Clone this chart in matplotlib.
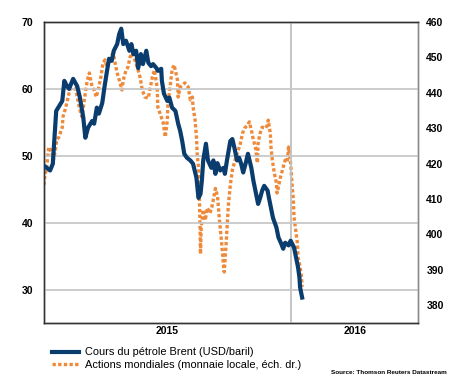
import numpy as np
import pandas as pd
import matplotlib
matplotlib.use('Agg')
import matplotlib.pyplot as plt

plt.rcParams['font.family'] = ['Liberation Sans', 'DejaVu Sans']

START = pd.Timestamp('2015-01-01')

# Brent crude, USD/barrel (left axis) - days after 1 Jan 2015
brent_days = [0, 9, 13, 18, 21, 27, 30, 34, 37, 43, 49, 53, 58, 61, 65, 71, 74, 78, 81,
              86, 89, 93, 96, 100, 103, 108, 111, 114, 117, 121, 126, 129, 132, 136,
              139, 143, 146, 151, 154, 158, 161, 166, 168, 173, 174, 177, 182, 185,
              189, 194, 198, 201, 204, 207, 211, 216, 220, 225, 228, 231, 233, 235,
              239, 242, 247, 250, 253, 256, 260, 265, 267, 270, 275, 278, 281, 285,
              288, 291, 294, 298, 301, 306, 309, 313, 316, 319, 322, 325, 330, 332,
              335, 338, 343, 346, 350, 353, 356, 361, 364, 366, 369, 372, 375, 377,
              378, 381]
brent = [48.5, 47.8, 48.8, 56.7, 57.2, 58.2, 61.2, 60.4, 60.0, 61.5, 60.4, 58.7, 55.7,
         52.7, 54.2, 55.2, 54.8, 57.2, 56.3, 57.9, 60.1, 62.7, 64.5, 64.2, 65.7, 66.7,
         68.2, 69.0, 66.7, 67.2, 65.7, 66.7, 65.2, 65.7, 63.1, 65.2, 63.7, 65.7, 63.9,
         63.4, 63.7, 63.1, 62.7, 63.0, 61.2, 59.3, 58.2, 58.7, 57.2, 56.7, 54.8, 53.7,
         52.2, 50.3, 49.7, 49.3, 48.8, 46.7, 43.7, 44.3, 46.3, 49.3, 51.8, 49.3, 48.2,
         49.3, 47.3, 48.9, 47.8, 48.2, 47.3, 49.3, 52.2, 52.5, 51.2, 49.3, 49.7, 48.8,
         47.5, 49.0, 50.3, 48.2, 46.3, 44.3, 42.8, 43.7, 44.8, 45.5, 44.8, 43.7, 42.2,
         40.7, 39.3, 37.8, 36.9, 36.1, 37.0, 36.6, 37.3, 36.9, 36.3, 34.8, 33.3, 31.8,
         30.3, 28.8]

# World equities, local currency (right axis)
stock_days = [0, 1, 4, 7, 12, 13, 16, 19, 22, 27,
              28, 31, 34, 38, 43, 47, 50, 53, 56, 58,
              61, 64, 67, 71, 74, 77, 80, 84, 87, 90,
              93, 98, 102, 105, 108, 112, 115, 117, 121, 124,
              127, 130, 134, 139, 142, 145, 149, 154, 157, 160,
              163, 167, 168, 173, 176, 179, 182, 183, 186, 189,
              192, 197, 198, 201, 204, 208, 213, 216, 219, 220,
              223, 225, 226, 228, 229, 230, 231, 232, 235, 238,
              241, 245, 248, 253, 256, 259, 262, 265, 266, 269,
              272, 275, 278, 282, 290, 293, 296, 301, 303, 306,
              309, 312, 315, 316, 319, 322, 327, 330, 331, 334,
              335, 337, 340, 343, 344, 346, 349, 352, 353, 356,
              359, 361, 362, 364, 366, 368, 369, 372, 374, 375,
              378, 380, 381]
stocks = [414.0, 416.2, 419.0, 424.7, 423.0, 420.2, 423.0, 426.7, 427.5, 430.3,
          433.2, 435.1, 437.4, 440.8, 441.6, 440.8, 438.0, 435.1, 433.2, 436.0,
          440.0, 443.6, 445.6, 441.6, 440.8, 438.8, 440.8, 444.5, 448.4, 449.3,
          447.3, 450.1, 451.2, 448.4, 445.6, 443.0, 440.8, 443.6, 446.4, 447.3,
          450.1, 451.2, 449.3, 446.4, 444.2, 440.8, 438.8, 438.5, 441.6, 444.5,
          446.4, 441.6, 436.0, 433.2, 431.5, 427.5, 432.3, 437.1, 441.6, 446.4,
          447.9, 443.6, 438.8, 441.6, 442.2, 442.8, 441.6, 438.0, 438.8, 436.0,
          432.3, 427.5, 423.0, 419.0, 413.4, 405.0, 394.5, 402.0, 407.0, 404.0,
          407.5, 406.0, 408.0, 413.0, 411.0, 404.0, 398.0, 391.0, 389.4, 398.0,
          408.0, 414.0, 418.2, 421.0, 425.8, 428.6, 430.0, 431.0, 431.8, 429.5,
          426.7, 424.7, 420.2, 425.8, 428.6, 430.3, 430.0, 431.0, 432.3, 428.6,
          424.7, 421.0, 417.3, 414.5, 411.7, 413.4, 416.2, 418.2, 419.0, 421.0,
          420.5, 424.7, 423.0, 420.2, 414.5, 409.7, 404.9, 400.4, 397.6, 393.6,
          390.8, 388.0, 385.2]

brent_dates = START + pd.to_timedelta(brent_days, unit='D')
stock_dates = START + pd.to_timedelta(stock_days, unit='D')

NAVY = '#0a3d6e'
ORANGE = '#ee8a3a'

fig = plt.figure(figsize=(4.70, 3.89), dpi=100)
ax = fig.add_axes([44 / 470, 1 - 323 / 389, 374 / 470, 301 / 389])
ax2 = ax.twinx()

ax.plot(brent_dates, brent, color=NAVY, lw=3.0, zorder=3, solid_joinstyle='round')
ax2.plot(stock_dates, stocks, color=ORANGE, lw=2.4, dashes=(1.0, 0.7),
         dash_capstyle='butt', zorder=2)

ax.set_zorder(ax2.get_zorder() + 1)
ax.patch.set_visible(False)

ax.set_ylim(25, 70)
ax2.set_ylim(375, 460)
ax.set_yticks([30, 40, 50, 60, 70])
ax2.set_yticks(range(380, 461, 10))

ax.set_xlim(START, pd.Timestamp('2016-07-06'))
ax.set_xticks([pd.Timestamp('2016-01-01')])
ax.set_xticklabels([])
ax.set_xticks([pd.Timestamp('2015-07-01'), pd.Timestamp('2016-04-04')], minor=True)
ax.set_xticklabels(['2015', '2016'], minor=True)
ax.tick_params(axis='x', which='both', length=0, pad=2)
for lbl in ax.get_xticklabels(minor=True):
    lbl.set_fontweight('bold')
    lbl.set_fontsize(7.5)

ax.grid(axis='y', color='#c8c8c8', lw=1.3)
ax.grid(axis='x', which='major', color='#c0c0c0', lw=1.3)
ax.set_axisbelow(True)

ax.tick_params(axis='y', length=0, pad=8, labelsize=7.5)
ax2.tick_params(axis='y', length=0, pad=6, labelsize=7.5)
for lbl in ax.get_yticklabels() + ax2.get_yticklabels():
    lbl.set_fontweight('bold')

for a in (ax, ax2):
    a.spines['left'].set_color('#333333')
    a.spines['bottom'].set_color('#333333')
    a.spines['top'].set_color('#333333')
    a.spines['right'].set_color('#8a8a8a')
    for s in a.spines.values():
        s.set_linewidth(1.0)

handles = [plt.Line2D([], [], color=NAVY, lw=3.0),
           plt.Line2D([], [], color=ORANGE, lw=2.4, dashes=(1.0, 0.7), dash_capstyle='butt')]
labels = ['Cours du pétrole Brent (USD/baril)',
          'Actions mondiales (monnaie locale, éch. dr.)']
fig.legend(handles, labels, loc='upper left', bbox_to_anchor=(47 / 470, 1 - 342 / 389),
           frameon=False, fontsize=7.9, handlelength=2.4, handletextpad=0.55,
           labelspacing=0.2, borderpad=0)

fig.text(447 / 470, 1 - 372 / 389, 'Source: Thomson Reuters Datastream',
         fontsize=4.6, fontweight='bold', ha='right', va='center')

fig.savefig('out.png', dpi=100)
